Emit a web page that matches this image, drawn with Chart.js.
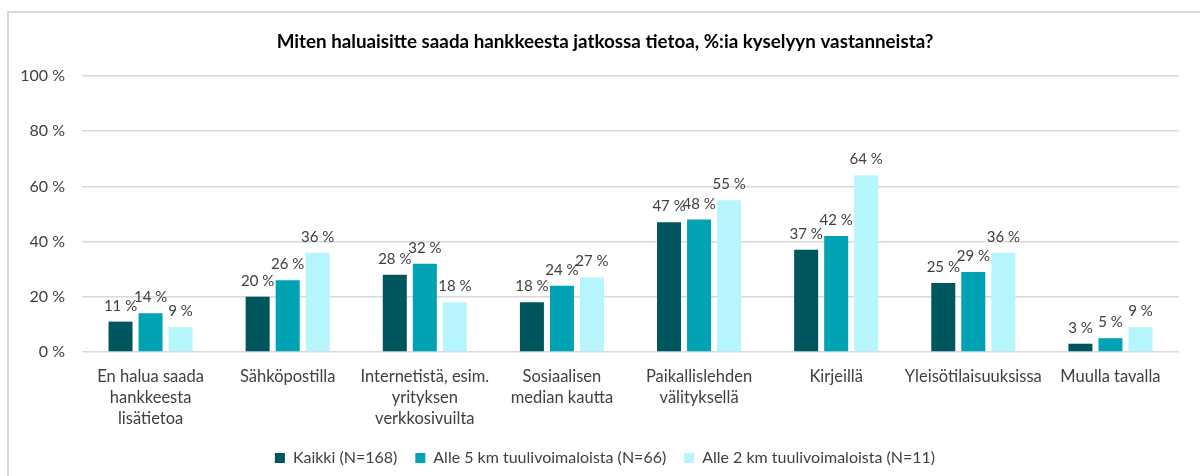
<!DOCTYPE html>
<html>
<head>
<meta charset="utf-8">
<script src="https://cdn.jsdelivr.net/npm/chart.js@4"></script>
<style>
  html, body { margin: 0; padding: 0; background: #fff; overflow: hidden; }
  #frame {
    position: absolute; left: 7px; top: 11px; width: 1300px; height: 600px;
    border-left: 2px solid #d9d9d9; border-top: 2px solid #d9d9d9;
  }
  #wrap { position: absolute; left: 0; top: 0; width: 1200px; height: 476px; }
</style>
</head>
<body>
<div id="frame"></div>
<div id="wrap"><canvas id="myChart"></canvas></div>
<script>
const chartTitle = 'Miten haluaisitte saada hankkeesta jatkossa tietoa, %:ia kyselyyn vastanneista?';

const categories = [
  ['En halua saada', 'hankkeesta', 'lisätietoa'],
  ['Sähköpostilla'],
  ['Internetistä, esim.', 'yrityksen', 'verkkosivuilta'],
  ['Sosiaalisen', 'median kautta'],
  ['Paikallislehden', 'välityksellä'],
  ['Kirjeillä'],
  ['Yleisötilaisuuksissa'],
  ['Muulla tavalla']
];

const seriesNames = ['Kaikki (N=168)', 'Alle 5 km tuulivoimaloista (N=66)', 'Alle 2 km tuulivoimaloista (N=11)'];
const kaikki  = [11, 20, 28, 18, 47, 37, 25, 3];
const alle5km = [14, 26, 32, 24, 48, 42, 29, 5];
const alle2km = [9, 36, 18, 27, 55, 64, 36, 9];

const yMin = 0, yMax = 100, yStep = 20;

const colors = ['#00565e', '#00a3b4', '#b7f5fc'];
const textColor = '#404040';
const fontFamily = 'Lato, "Open Sans", sans-serif';

// value labels above each bar
const barLabels = {
  id: 'barLabels',
  afterDatasetsDraw(chart) {
    const ctx = chart.ctx;
    ctx.save();
    ctx.font = '15px ' + fontFamily;
    ctx.fillStyle = textColor;
    ctx.textAlign = 'center';
    ctx.textBaseline = 'alphabetic';
    chart.data.datasets.forEach((ds, i) => {
      chart.getDatasetMeta(i).data.forEach((bar, j) => {
        ctx.fillText(ds.data[j] + '\u00a0%', bar.x, bar.y - 11);
      });
    });
    ctx.restore();
  }
};

// let the y tick labels use the left padding too (they get clipped to the axis box otherwise)
const yLabelRoom = {
  id: 'yLabelRoom',
  afterLayout(chart) {
    chart.scales.y.left = 0;
  }
};

const ctx = document.getElementById('myChart').getContext('2d');

const myChart = new Chart(ctx, {
  type: 'bar',
  data: {
    labels: categories,
    datasets: [
      { label: seriesNames[0], data: kaikki,  backgroundColor: colors[0] },
      { label: seriesNames[1], data: alle5km, backgroundColor: colors[1] },
      { label: seriesNames[2], data: alle2km, backgroundColor: colors[2] }
    ]
  },
  options: {
    responsive: true,
    maintainAspectRatio: false,
    animation: false,
    categoryPercentage: 0.657,
    barPercentage: 0.8,
    layout: { padding: { left: 31, right: 21, top: 0, bottom: 0 } },
    plugins: {
      title: {
        display: true,
        text: chartTitle,
        color: '#000',
        font: { family: fontFamily, size: 18.8, weight: 'bold' },
        padding: { top: 30.7, bottom: 22.7 }
      },
      legend: {
        position: 'bottom',
        labels: {
          color: textColor,
          font: { family: fontFamily, size: 16 },
          boxWidth: 10,
          boxHeight: 10,
          padding: 18
        }
      },
      tooltip: { enabled: false }
    },
    scales: {
      y: {
        min: yMin,
        max: yMax,
        border: { display: false },
        grid: { color: '#d9d9d9', lineWidth: 1.5, drawTicks: false },
        ticks: {
          stepSize: yStep,
          padding: 17,
          color: textColor,
          font: { family: fontFamily, size: 16 },
          callback: v => v + '\u00a0%'
        },
        afterFit(scale) { scale.width = 51; }
      },
      x: {
        border: { display: false },
        grid: { display: false },
        ticks: {
          padding: 6,
          maxRotation: 0,
          autoSkip: false,
          color: textColor,
          font: { family: fontFamily, size: 16.5, lineHeight: 1.273 }
        },
        afterFit(scale) { scale.height = 80; }
      }
    }
  },
  plugins: [barLabels, yLabelRoom]
});
</script>
</body>
</html>
